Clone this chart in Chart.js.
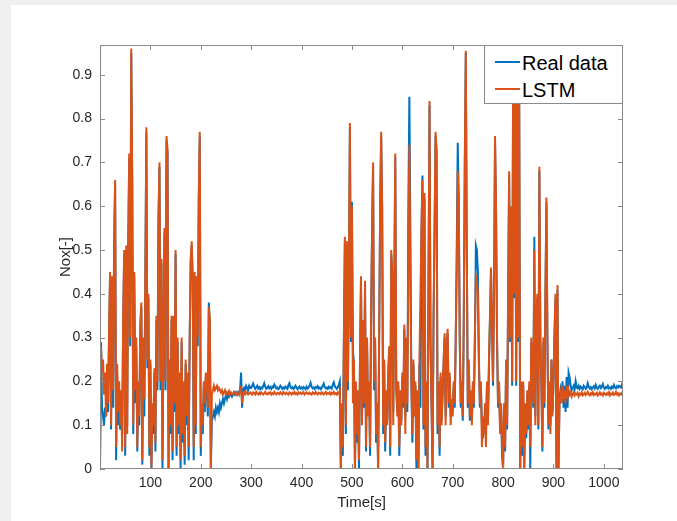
<!DOCTYPE html>
<html>
<head>
<meta charset="utf-8">
<script src="https://cdn.jsdelivr.net/npm/chart.js@4.4.0/dist/chart.umd.min.js"></script>
<style>
  body { margin: 0; background: #f0f0f0; }
  #fig { position: absolute; left: 11px; top: 5px; width: 666px; height: 516px; background: #fff; }
  #wrap { position: absolute; left: 0; top: 0; width: 677px; height: 521px; }
  #legend {
    position: absolute; left: 484px; top: 45px; width: 139px; height: 59px;
    box-sizing: border-box; border: 1px solid #8a8a8a; background: #fff;
    font-family: "Liberation Sans", Arial, sans-serif; font-size: 20px; line-height: 20px; color: #000;
  }
  #legend .ln { position: absolute; left: 10px; width: 25px; height: 2px; }
  #legend .tx { position: absolute; left: 37px; white-space: nowrap; }
</style>
</head>
<body>
<div id="fig"></div>
<div id="wrap"><canvas id="myChart" width="677" height="521"></canvas></div>
<div id="legend">
  <div class="ln" style="top:15px;background:#0072BD"></div><span class="tx" style="top:7px">Real data</span>
  <div class="ln" style="top:42px;background:#D95319"></div><span class="tx" style="top:34px">LSTM</span>
</div>
<script>
// sampled every 2 s, from t = 0 to t = 1038
var timeStep = 2;
var xTicks = [100, 200, 300, 400, 500, 600, 700, 800, 900, 1000];
var yTicks = [0, 0.1, 0.2, 0.3, 0.4, 0.5, 0.6, 0.7, 0.8, 0.9];

var realData = [
  // 0 - 298
  0.00,0.29,0.14,0.12,0.10,0.14,0.12,0.15,0.13,0.30,
  0.44,0.09,0.43,0.14,0.50,0.65,0.02,0.22,0.10,0.16,
  0.09,0.11,0.08,0.34,0.49,0.03,0.50,0.10,0.50,0.71,
  0.28,0.95,0.64,0.08,0.44,0.15,0.28,0.04,0.18,0.10,
  0.32,0.37,0.01,0.28,0.12,0.44,0.77,0.23,0.39,0.03,
  0.24,0.00,0.14,0.08,0.22,0.04,0.34,0.18,0.56,0.69,
  0.18,0.47,0.00,0.29,0.54,0.18,0.75,0.72,0.00,0.24,
  0.08,0.34,0.02,0.34,0.13,0.49,0.03,0.29,0.08,0.21,
  0.00,0.29,0.06,0.19,0.01,0.24,0.10,0.21,0.02,0.29,
  0.47,0.51,0.43,0.02,0.44,0.08,0.43,0.28,0.61,0.76,
  0.03,0.14,0.08,0.19,0.13,0.21,0.19,0.12,0.38,0.33,
  0.00,0.11,0.12,0.13,0.12,0.14,0.13,0.14,0.13,0.15,
  0.14,0.15,0.16,0.15,0.16,0.17,0.16,0.17,0.165,0.17,
  0.17,0.165,0.17,0.175,0.17,0.175,0.17,0.175,0.17,0.18,
  0.22,0.14,0.18,0.185,0.18,0.19,0.185,0.18,0.19,0.185,
  // 300 - 476
  0.185,0.19,0.195,0.188,0.183,0.186,0.19,0.184,0.187,0.182,
  0.186,0.184,0.19,0.196,0.188,0.183,0.185,0.189,0.184,0.187,
  0.183,0.188,0.186,0.193,0.189,0.184,0.186,0.182,0.185,0.19,
  0.187,0.183,0.186,0.184,0.188,0.185,0.183,0.192,0.196,0.186,
  0.184,0.187,0.183,0.185,0.19,0.186,0.182,0.185,0.188,0.184,
  0.186,0.183,0.187,0.185,0.182,0.188,0.184,0.186,0.19,0.197,
  0.188,0.184,0.186,0.183,0.187,0.185,0.189,0.184,0.186,0.182,
  0.185,0.19,0.195,0.187,0.184,0.186,0.183,0.188,0.185,0.187,
  0.184,0.193,0.198,0.189,0.186,0.183,0.187,0.192,0.2,
  // 478 - 912
  0.00,0.14,0.03,0.29,0.52,0.08,0.51,0.18,0.44,0.78,
  0.29,0.61,0.27,0.24,0.00,0.18,0.06,0.16,0.00,0.24,
  0.43,0.12,0.33,0.14,0.42,0.04,0.29,0.13,0.19,0.03,
  0.34,0.54,0.69,0.18,0.29,0.06,0.13,0.00,0.29,0.59,
  0.76,0.59,0.08,0.24,0.04,0.16,0.11,0.21,0.27,0.03,
  0.49,0.44,0.13,0.39,0.71,0.18,0.13,0.19,0.03,0.17,
  0.11,0.21,0.14,0.32,0.12,0.29,0.13,0.60,0.85,0.55,
  0.19,0.06,0.24,0.13,0.19,0.00,0.17,0.00,0.24,0.14,
  0.54,0.67,0.09,0.62,0.03,0.19,0.00,0.44,0.83,0.28,
  0.14,0.00,0.34,0.54,0.76,0.72,0.08,0.19,0.03,0.21,
  0.11,0.17,0.24,0.30,0.12,0.27,0.31,0.14,0.21,0.12,
  0.15,0.13,0.19,0.14,0.29,0.50,0.745,0.62,0.29,0.14,
  0.19,0.11,0.34,0.69,0.95,0.49,0.14,0.24,0.11,0.17,
  0.11,0.19,0.14,0.29,0.51,0.50,0.45,0.24,0.14,0.19,
  0.10,0.07,0.09,0.10,0.08,0.19,0.11,0.24,0.34,0.45,
  0.33,0.19,0.39,0.75,0.59,0.29,0.14,0.19,0.10,0.14,
  0.03,0.00,0.14,0.04,0.24,0.09,0.39,0.67,0.29,0.59,
  0.19,0.92,0.39,0.87,0.19,0.89,0.29,0.84,0.00,0.19,
  0.03,0.19,0.00,0.14,0.07,0.17,0.09,0.19,0.00,0.29,
  0.24,0.14,0.53,0.12,0.34,0.39,0.09,0.68,0.29,0.19,
  0.04,0.29,0.14,0.39,0.61,0.29,0.09,0.19,0.10,0.25,
  0.13,0.19,0.30,0.39,0.00,0.41,0.00,0.16,
  // 914 - 1038
  0.18,0.16,0.2,0.14,0.19,0.13,0.21,0.14,0.22,0.21,
  0.19,0.18,0.185,0.19,0.182,0.2,0.186,0.184,0.19,0.183,
  0.188,0.185,0.182,0.19,0.187,0.183,0.186,0.196,0.188,0.184,
  0.187,0.182,0.186,0.189,0.184,0.192,0.186,0.183,0.187,0.19,
  0.185,0.188,0.194,0.186,0.183,0.187,0.185,0.19,0.184,0.186,
  0.183,0.188,0.185,0.192,0.186,0.184,0.189,0.186,0.19,0.188,
  0.186,0.193,0.2
];

var lstmData = [
  // 0 - 298
  0.00,0.28,0.22,0.25,0.17,0.22,0.12,0.24,0.15,0.32,
  0.45,0.10,0.44,0.18,0.52,0.66,0.05,0.24,0.13,0.20,
  0.10,0.18,0.04,0.35,0.50,0.05,0.51,0.08,0.52,0.72,
  0.30,0.96,0.66,0.10,0.45,0.18,0.30,0.05,0.20,0.12,
  0.33,0.38,0.02,0.30,0.16,0.45,0.78,0.25,0.40,0.05,
  0.25,0.00,0.15,0.10,0.23,0.06,0.35,0.20,0.57,0.70,
  0.20,0.48,0.02,0.30,0.55,0.20,0.76,0.73,0.00,0.25,
  0.10,0.35,0.04,0.35,0.15,0.50,0.05,0.30,0.10,0.22,
  0.02,0.30,0.08,0.20,0.03,0.25,0.12,0.22,0.05,0.30,
  0.48,0.52,0.44,0.05,0.45,0.10,0.44,0.30,0.62,0.77,
  0.05,0.15,0.10,0.20,0.15,0.22,0.20,0.14,0.37,0.34,
  0.00,0.17,0.18,0.19,0.18,0.185,0.19,0.18,0.185,0.18,
  0.175,0.18,0.17,0.175,0.18,0.17,0.175,0.172,0.178,0.17,
  0.175,0.172,0.17,0.176,0.173,0.17,0.175,0.172,0.17,0.174,
  0.19,0.15,0.172,0.175,0.17,0.173,0.176,0.17,0.172,0.175,
  // 300 - 476
  0.172,0.17,0.175,0.173,0.17,0.176,0.172,0.17,0.174,0.171,
  0.175,0.172,0.17,0.173,0.176,0.171,0.17,0.174,0.172,0.175,
  0.17,0.173,0.171,0.176,0.172,0.17,0.174,0.173,0.171,0.175,
  0.172,0.17,0.176,0.173,0.171,0.174,0.172,0.17,0.175,0.173,
  0.17,0.174,0.172,0.176,0.171,0.173,0.17,0.175,0.172,0.174,
  0.171,0.173,0.176,0.17,0.172,0.175,0.173,0.171,0.174,0.172,
  0.17,0.175,0.173,0.171,0.176,0.172,0.17,0.174,0.173,0.171,
  0.175,0.172,0.17,0.174,0.176,0.171,0.173,0.172,0.175,0.17,
  0.174,0.172,0.176,0.171,0.173,0.17,0.175,0.172,0.178,
  // 478 - 912
  0.00,0.15,0.05,0.30,0.53,0.10,0.52,0.20,0.45,0.79,
  0.30,0.60,0.15,0.25,0.00,0.20,0.08,0.18,0.02,0.25,
  0.44,0.10,0.34,0.15,0.43,0.05,0.30,0.12,0.20,0.05,
  0.35,0.55,0.70,0.20,0.30,0.08,0.15,0.00,0.30,0.60,
  0.77,0.60,0.10,0.25,0.06,0.18,0.10,0.22,0.28,0.05,
  0.50,0.45,0.10,0.40,0.72,0.20,0.12,0.20,0.05,0.18,
  0.10,0.22,0.15,0.33,0.08,0.30,0.15,0.50,0.74,0.40,
  0.20,0.08,0.25,0.12,0.20,0.02,0.18,0.00,0.25,0.40,
  0.55,0.66,0.10,0.63,0.05,0.20,0.00,0.45,0.84,0.30,
  0.15,0.00,0.35,0.55,0.77,0.73,0.10,0.20,0.05,0.22,
  0.10,0.18,0.25,0.31,0.10,0.28,0.32,0.15,0.22,0.10,
  0.16,0.12,0.20,0.15,0.30,0.45,0.68,0.60,0.30,0.15,
  0.20,0.12,0.35,0.70,0.955,0.50,0.15,0.25,0.12,0.18,
  0.10,0.20,0.15,0.30,0.44,0.43,0.40,0.25,0.15,0.20,
  0.05,0.12,0.08,0.15,0.05,0.20,0.10,0.25,0.35,0.46,
  0.34,0.20,0.40,0.76,0.60,0.30,0.15,0.20,0.08,0.15,
  0.05,0.00,0.15,0.05,0.25,0.10,0.40,0.68,0.30,0.60,
  0.20,0.93,0.40,0.88,0.20,0.90,0.30,0.85,0.00,0.20,
  0.05,0.20,0.00,0.15,0.08,0.18,0.10,0.20,0.05,0.30,
  0.25,0.15,0.50,0.10,0.35,0.40,0.10,0.69,0.30,0.20,
  0.05,0.30,0.15,0.40,0.62,0.30,0.10,0.20,0.08,0.25,
  0.12,0.20,0.31,0.40,0.00,0.42,0.00,0.15,
  // 914 - 1038
  0.17,0.15,0.19,0.16,0.18,0.15,0.19,0.16,0.18,0.17,
  0.175,0.165,0.17,0.175,0.168,0.172,0.17,0.174,0.166,0.172,
  0.17,0.175,0.168,0.171,0.174,0.169,0.172,0.176,0.17,0.168,
  0.173,0.17,0.175,0.169,0.172,0.17,0.174,0.168,0.171,0.175,
  0.17,0.172,0.168,0.174,0.171,0.169,0.173,0.17,0.175,0.168,
  0.172,0.17,0.174,0.169,0.171,0.176,0.17,0.173,0.168,0.172,
  0.17,0.174,0.171
];

function toPoints(vals) {
  return vals.map(function(v, i) { return {x: i * timeStep, y: v}; });
}

// matlab style box with inward ticks
var boxTicks = {
  id: 'boxTicks',
  afterDatasetsDraw: function(chart) {
    var ctx = chart.ctx, a = chart.chartArea, sx = chart.scales.x, sy = chart.scales.y;
    ctx.save();
    ctx.strokeStyle = '#8a8a8a';
    ctx.lineWidth = 1;
    ctx.strokeRect(a.left + 0.5, a.top + 0.5, a.right - a.left - 1, a.bottom - a.top - 1);
    ctx.beginPath();
    xTicks.forEach(function(v) {
      var px = Math.round(sx.getPixelForValue(v)) + 0.5;
      ctx.moveTo(px, a.bottom); ctx.lineTo(px, a.bottom - 5);
      ctx.moveTo(px, a.top); ctx.lineTo(px, a.top + 5);
    });
    yTicks.forEach(function(v) {
      var py = Math.round(sy.getPixelForValue(v)) + 0.5;
      ctx.moveTo(a.left, py); ctx.lineTo(a.left + 5, py);
      ctx.moveTo(a.right, py); ctx.lineTo(a.right - 5, py);
    });
    ctx.stroke();
    ctx.restore();
  }
};

var fontFam = '"Liberation Sans", Arial, sans-serif';
var ctx = document.getElementById('myChart').getContext('2d');
var myChart = new Chart(ctx, {
  type: 'line',
  data: {
    datasets: [{
      label: 'LSTM',
      data: toPoints(lstmData),
      borderColor: '#D95319',
      borderWidth: 2,
      pointRadius: 0,
      order: 0
    }, {
      label: 'Real data',
      data: toPoints(realData),
      borderColor: '#0072BD',
      borderWidth: 2,
      pointRadius: 0,
      order: 1
    }]
  },
  options: {
    responsive: false,
    animation: false,
    events: [],
    layout: { padding: { left: 53, top: 45, right: 54, bottom: 5 } },
    plugins: { legend: { display: false }, tooltip: { enabled: false } },
    elements: { line: { tension: 0 } },
    scales: {
      x: {
        type: 'linear',
        min: 0,
        max: 1038,
        afterFit: function(s) { s.height = 47; },
        afterBuildTicks: function(s) { s.ticks = xTicks.map(function(v) { return {value: v}; }); },
        grid: { display: false, drawTicks: false },
        border: { display: false },
        ticks: {
          padding: 6, color: '#262626', font: { family: fontFam, size: 14 }, maxRotation: 0,
          callback: function(v) { return String(v); }
        },
        title: { display: true, text: 'Time[s]', color: '#262626', font: { family: fontFam, size: 15 } }
      },
      y: {
        min: 0,
        max: 0.968,
        afterFit: function(s) { s.width = 47; },
        afterBuildTicks: function(s) { s.ticks = yTicks.map(function(v) { return {value: v}; }); },
        grid: { display: false, drawTicks: false },
        border: { display: false },
        ticks: {
          padding: 8, color: '#262626', font: { family: fontFam, size: 14 },
          callback: function(v) { return String(Math.round(v * 10) / 10); }
        },
        title: { display: true, text: 'Nox[-]', color: '#262626', font: { family: fontFam, size: 15 } }
      }
    }
  },
  plugins: [boxTicks]
});
</script>
</body>
</html>
